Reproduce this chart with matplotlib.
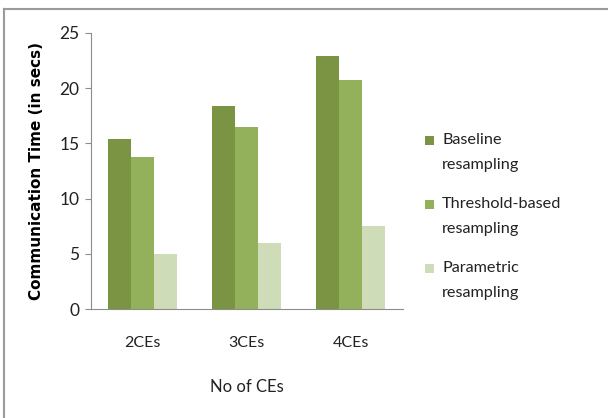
import matplotlib
matplotlib.use("Agg")
import matplotlib.pyplot as plt
import numpy as np
from matplotlib.patches import Rectangle
from matplotlib.lines import Line2D

categories = ["2CEs", "3CEs", "4CEs"]
series_names = ["Baseline\nresampling", "Threshold-based\nresampling", "Parametric\nresampling"]
baseline = [15.4, 18.4, 22.9]
threshold = [13.8, 16.5, 20.7]
parametric = [5.0, 6.0, 7.5]
colors = ["#7A9444", "#93B05A", "#CFDCB8"]

plt.rcParams['font.family'] = ['Lato', 'DejaVu Sans']

W, H = 608, 418
fig = plt.figure(figsize=(W/100, H/100), dpi=100)
ax = fig.add_axes([90.7/W, 1-309.3/H, 312/W, (309.3-32.7)/H])

x = np.arange(len(categories))
bw = 0.22
for i, vals in enumerate([baseline, threshold, parametric]):
    ax.bar(x + (i-1)*bw, vals, width=bw, color=colors[i], linewidth=0)

ax.set_xlim(-0.5, 2.5)
ax.set_ylim(0, 25)
ax.set_yticks([0, 5, 10, 15, 20, 25])
ax.set_xticks(x)
ax.set_xticklabels(categories)
for s in ['top', 'right']:
    ax.spines[s].set_visible(False)
for s in ['left', 'bottom']:
    ax.spines[s].set_color('#8C8C8C')
    ax.spines[s].set_linewidth(0.8)
ax.tick_params(axis='y', length=4, color='#8C8C8C', labelsize=12.5, labelcolor='#222222', pad=4)
ax.tick_params(axis='x', length=0, labelsize=11.5, pad=19, labelcolor='#222222')

ax.set_ylabel("Communication Time (in secs)", fontsize=11, fontweight='bold',
              fontfamily=['DejaVu Sans'])
ax.yaxis.set_label_coords(-0.15, 0.5)
ax.set_xlabel("No of CEs", fontsize=12, color='#222222')
ax.xaxis.set_label_coords(0.5, -0.252)

# legend drawn as squares and two-line labels
for i, name in enumerate(series_names):
    yc = 140 + i * 64
    fig.patches.append(Rectangle((425/W, 1-(yc+4.5)/H), 9/W, 9/H, transform=fig.transFigure,
                                 facecolor=colors[i], edgecolor='none'))
    l1, l2 = name.split("\n")
    fig.text(442/W, 1-yc/H, l1, fontsize=11.7, va='center', ha='left', color='#222222')
    fig.text(442/W, 1-(yc+25)/H, l2, fontsize=11.7, va='center', ha='left', color='#222222')

# figure frame (top and left edges visible)
fig.lines.append(Line2D([3.5/W, 3.5/W], [0, 1-9/H], transform=fig.transFigure,
                        color='#9A9A9A', linewidth=1.5))
fig.lines.append(Line2D([3.5/W, 1], [1-9/H, 1-9/H], transform=fig.transFigure,
                        color='#9A9A9A', linewidth=1.5))

fig.savefig("out.png", dpi=100)
